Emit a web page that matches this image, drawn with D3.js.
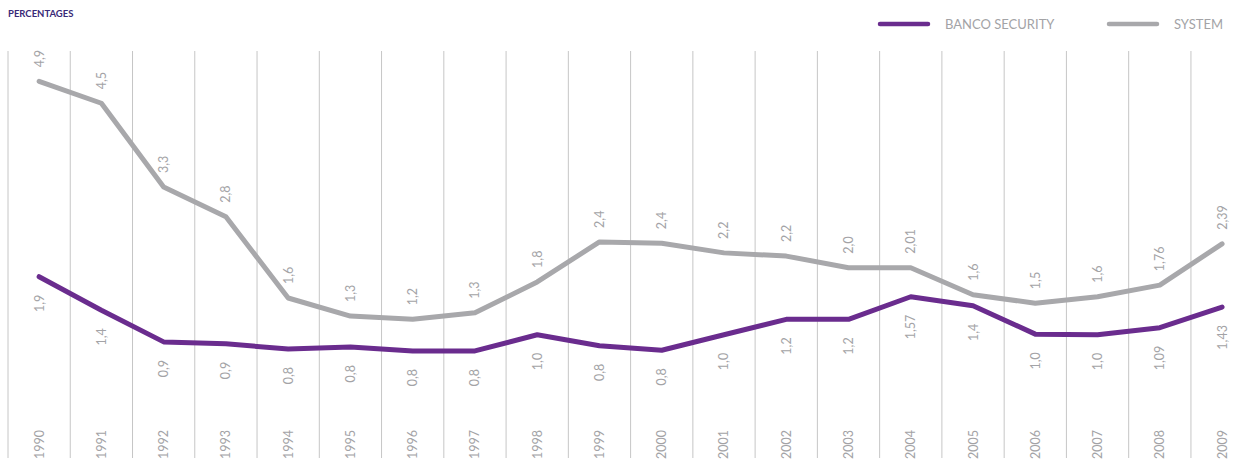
<!DOCTYPE html>
<html>
<head>
<meta charset="utf-8">
<script src="https://cdn.jsdelivr.net/npm/d3@7"></script>
<style>
  body { margin: 0; background: #fff; }
  svg { display: block; font-family: Lato, "Open Sans", sans-serif; }
</style>
</head>
<body>
<svg id="chart" width="1241" height="461"></svg>
<script>
// years shown along the bottom
var years = [1990, 1991, 1992, 1993, 1994, 1995, 1996, 1997, 1998, 1999,
             2000, 2001, 2002, 2003, 2004, 2005, 2006, 2007, 2008, 2009];

// plotted values
var systemValues = [4.91, 4.57, 3.27, 2.81, 1.55, 1.27, 1.22, 1.32, 1.80, 2.42,
                    2.40, 2.25, 2.20, 2.02, 2.02, 1.60, 1.47, 1.57, 1.75, 2.39];
var bancoValues = [1.88, 1.36, 0.87, 0.84, 0.76, 0.79, 0.73, 0.73, 0.98, 0.81,
                   0.74, 0.98, 1.22, 1.22, 1.57, 1.43, 0.99, 0.98, 1.09, 1.41];

// printed labels
var systemLabels = ["4,9", "4,5", "3,3", "2,8", "1,6", "1,3", "1,2", "1,3", "1,8", "2,4",
                    "2,4", "2,2", "2,2", "2,0", "2,01", "1,6", "1,5", "1,6", "1,76", "2,39"];
var bancoLabels = ["1,9", "1,4", "0,9", "0,9", "0,8", "0,8", "0,8", "0,8", "1,0", "0,8",
                   "0,8", "1,0", "1,2", "1,2", "1,57", "1,4", "1,0", "1,0", "1,09", "1,43"];

var seriesNames = ["BANCO SECURITY", "SYSTEM"];

var purple = "#6a2c8e";
var grey = "#a8a8ab";
var textGrey = "#a3a3a6";

var svg = d3.select("#chart");

var left = 8, step = 62.26;
var xScale = d3.scaleBand()
    .domain(years)
    .range([left, left + step * years.length])
    .padding(0);

var yScale = d3.scaleLinear()
    .domain([0, 5])
    .range([398, 75.5]);

var cx = d => xScale(d) + xScale.bandwidth() / 2;

// vertical grid lines at band edges
var edges = years.map(d => xScale(d)).concat([xScale(years[years.length - 1]) + xScale.bandwidth()]);
svg.append("g")
    .selectAll("line")
    .data(edges)
    .enter()
    .append("line")
    .attr("x1", d => d).attr("x2", d => d)
    .attr("y1", 51).attr("y2", 458)
    .attr("stroke", "#c6c6c6")
    .attr("stroke-width", 1);

// title
svg.append("text")
    .attr("x", 8).attr("y", 17)
    .attr("fill", "#3a2a78")
    .attr("font-size", 9.5)
    .attr("font-weight", "bold")
    .text("PERCENTAGES");

// lines
var line = d3.line()
    .x((d, i) => cx(years[i]))
    .y(d => yScale(d));

svg.append("path")
    .datum(systemValues)
    .attr("d", line)
    .attr("fill", "none")
    .attr("stroke", grey)
    .attr("stroke-width", 5)
    .attr("stroke-linejoin", "round")
    .attr("stroke-linecap", "round");

svg.append("path")
    .datum(bancoValues)
    .attr("d", line)
    .attr("fill", "none")
    .attr("stroke", purple)
    .attr("stroke-width", 5)
    .attr("stroke-linejoin", "round")
    .attr("stroke-linecap", "round");

// value labels, rotated
function rotLabel(g, x, y, txt, anchor) {
    g.append("text")
        .attr("transform", "translate(" + x + "," + y + ") rotate(-90)")
        .attr("dy", "0.36em")
        .attr("text-anchor", anchor)
        .attr("fill", textGrey)
        .attr("font-size", 12.5)
        .text(txt);
}

var labels = svg.append("g");
years.forEach(function(yr, i) {
    rotLabel(labels, cx(yr), yScale(systemValues[i]) - 14, systemLabels[i], "start");
    rotLabel(labels, cx(yr), yScale(bancoValues[i]) + 18, bancoLabels[i], "end");
    rotLabel(labels, cx(yr), 459, yr, "start");
});

// legend
var legend = svg.append("g");
var legendItems = [
    { name: seriesNames[0], color: purple, x: 880 },
    { name: seriesNames[1], color: grey, x: 1109 }
];
legendItems.forEach(function(d) {
    legend.append("line")
        .attr("x1", d.x).attr("x2", d.x + 48)
        .attr("y1", 24).attr("y2", 24)
        .attr("stroke", d.color)
        .attr("stroke-width", 4.5)
        .attr("stroke-linecap", "round");
    legend.append("text")
        .attr("x", d.x + 65).attr("y", 24)
        .attr("dy", "0.36em")
        .attr("fill", textGrey)
        .attr("font-size", 13)
        .text(d.name);
});
</script>
</body>
</html>
